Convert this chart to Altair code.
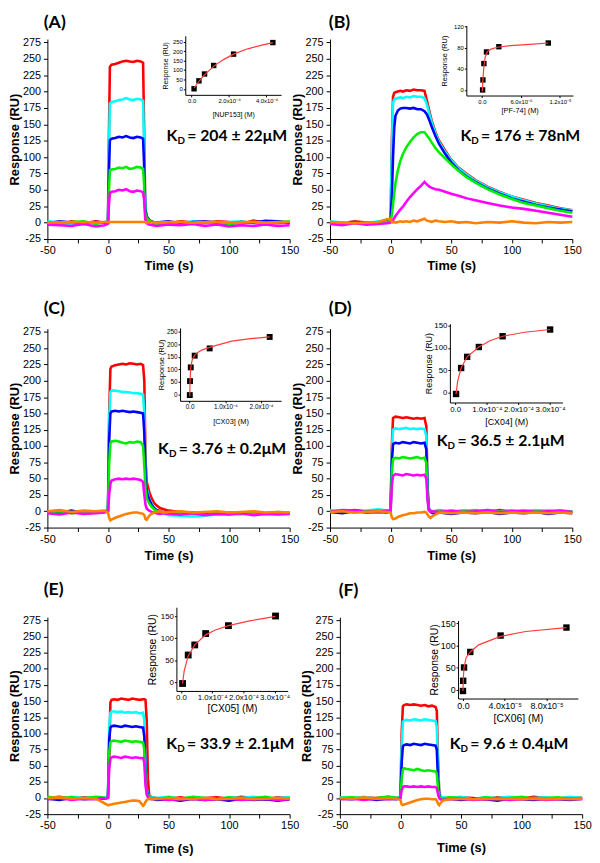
import altair as alt
import pandas as pd

# ---------------- sensorgram data (time in s, response in RU) ----------------
TRACES = ["red", "cyan", "blue", "green", "magenta", "orange"]
TRACE_COLORS = ["#FF0000", "#00FFFF", "#0000FF", "#00EE00", "#FF00FF", "#FF8000"]

A_t = [-50, -40, -30, -20, -10, -3, 0, 0.7, 1.6, 3, 6, 9, 12, 15, 18, 21, 24, 27, 29, 29.8, 30.8, 32, 34, 37, 40,
       50, 60, 70, 80, 90, 100, 110, 120, 130, 140, 150]
A_red = [1, -2, 2, -1, 2, 0, 0, 120, 238, 241, 242, 244, 246, 247, 246, 245, 247, 246, 244, 150, 20, 5, 2, 1, 0,
         -1, 2, 0, -1, 2, 1, -2, 3, 0, -1, 1]
A_cyan = [2, 0, -2, 1, -1, 1, 0, 100, 182, 184, 185, 187, 188, 190, 188, 187, 189, 188, 186, 120, 25, 8, 3, 1, -2,
          1, -1, 2, 0, -2, 1, 2, -1, 0, 2, -1]
A_blue = [-1, 2, 0, -2, 1, 0, 0, 70, 126, 128, 129, 131, 130, 132, 130, 129, 131, 130, 128, 90, 20, 10, 4, 1, 0,
          2, -1, 1, 2, 0, -2, 1, 0, 3, 2, 0]
A_green = [0, -3, 1, 2, -2, 1, 0, 45, 80, 81, 82, 84, 83, 85, 82, 83, 85, 84, 82, 60, 15, 8, 3, 0, -3,
           -2, 1, -1, 0, 1, -2, 0, 1, -1, 0, 2]
A_magenta = [-3, -4, -5, -2, -6, -4, -2, 25, 45, 47, 48, 50, 49, 51, 48, 47, 49, 48, 46, 35, 5, -1, -3, -4, -5,
             -3, -4, -2, -5, -3, -6, -4, -5, -3, -5, -4]
A_orange = [0, 1, 0, 1, 0, 1, 1, 1, 1, 1, 1, 1, 1, 1, 1, 1, 1, 1, 1, 1, 1, 0, 1, 1, 0,
            1, 1, 0, 1, 1, 0, 1, 1, 0, 1, 1]

B_t = [-50, -40, -30, -20, -10, -3, 0, 1, 2, 3, 4, 6, 8, 10, 13, 16, 19, 22, 25, 28, 30, 32, 34, 37, 40,
       45, 50, 56, 63, 70, 80, 90, 100, 110, 120, 130, 140, 150]
B_red = [1, -1, 2, 0, 1, 4, 5, 120, 192, 198, 199, 200, 201, 200, 202, 201, 203, 202, 202, 201, 186, 170, 155, 138, 125,
         110, 96, 84, 74, 65, 55, 47, 40, 35, 30, 26, 22, 19]
B_cyan = [2, 0, 1, -1, 2, 3, 4, 110, 183, 188, 189, 190, 191, 190, 192, 191, 193, 192, 192, 190, 180, 166, 152, 136, 123,
          108, 95, 83, 73, 64, 54, 46, 40, 34, 29, 25, 21, 19]
B_blue = [0, -2, 1, -1, 0, 2, 3, 40, 100, 145, 163, 171, 174, 175, 175, 174, 175, 173, 173, 170, 165, 156, 146, 132, 120,
          105, 92, 80, 70, 62, 52, 44, 37, 32, 27, 23, 20, 17]
B_green = [-1, -3, 0, -2, -1, 1, 3, 12, 28, 45, 60, 80, 94, 104, 115, 123, 130, 135, 138, 138, 133, 128, 122, 114, 107,
           98, 89, 79, 69, 61, 51, 43, 36, 30, 26, 22, 18, 15]
B_magenta = [-2, -4, -1, -3, -2, -1, 0, 2, 4, 7, 10, 15, 20, 24, 32, 39, 45, 51, 56, 62, 58, 55, 53, 51, 50,
             47, 44, 41, 37, 34, 30, 26, 23, 21, 18, 15, 12, 9]
B_orange = [1, 0, -1, 0, 1, 5, 6, 1, 0, 1, 0, 1, 2, 1, 2, 1, 3, 2, 4, 6, 3, 2, 1, 3, 2,
            1, 2, 0, 1, -1, 1, 0, 2, 0, -1, 1, 0, 1]

C_t = [-50, -40, -30, -20, -10, -3, 0, 1, 2, 3, 6, 9, 12, 15, 18, 21, 24, 27, 29, 30, 31, 32, 34, 36, 38, 40,
       43, 46, 50, 60, 70, 80, 90, 100, 110, 120, 130, 140, 150]
C_red = [-2, 1, -3, 0, -2, -1, 0, 150, 218, 222, 224, 225, 226, 225, 227, 226, 225, 226, 224, 200, 80, 45, 30, 20, 13, 9,
         5, 3, 1, -1, -3, -2, -4, -2, -3, -1, -3, -2, -3]
C_cyan = [-1, -3, 0, -2, -1, 0, 2, 140, 183, 185, 185, 184, 183, 183, 182, 181, 181, 180, 179, 150, 60, 35, 20, 12, 6, 2,
          -2, -4, -6, -7, -8, -7, -5, -4, -5, -3, -4, -2, -3]
C_blue = [0, -2, 1, -3, 0, -1, 1, 110, 150, 153, 154, 153, 154, 153, 152, 153, 152, 151, 150, 120, 55, 30, 18, 10, 5, 2,
          0, -2, -3, -4, -2, -5, -3, -4, -2, -4, -3, -4, -3]
C_green = [-2, 0, -3, -1, -2, 0, 1, 75, 104, 107, 108, 107, 105, 104, 106, 105, 107, 106, 100, 70, 35, 20, 12, 7, 3, 1,
           -1, -2, -3, -2, -4, -1, -3, -2, -4, -2, -3, -1, -2]
C_magenta = [-3, -5, -2, -4, -3, -2, 0, 25, 42, 47, 49, 50, 49, 50, 49, 50, 49, 48, 45, 25, 10, 4, 1, -1, -2, -3,
             -4, -3, -4, -5, -3, -6, -4, -5, -3, -6, -4, -5, -4]
C_orange = [0, 2, -1, 1, 0, 1, -2, -10, -14, -13, -10, -8, -6, -4, -3, -2, -2, -3, -4, -6, -12, -13, -7, -4, -2, -1,
            0, -2, -1, 0, -2, -1, 0, -2, -1, 0, -2, -1, -2]

D_t = [-50, -40, -30, -20, -10, -3, 0, 1, 2, 4, 7, 10, 13, 16, 19, 22, 25, 28, 29.5, 30.5, 31.5, 33, 35, 40,
       50, 60, 70, 80, 90, 100, 110, 120, 130, 140, 150]
D_red = [1, -1, 2, 0, 1, 0, 2, 100, 143, 145, 144, 143, 144, 143, 142, 143, 142, 143, 130, 40, 5, 1, -1, 0,
         -2, 1, -1, 0, 2, -1, 0, 1, -2, 0, -1]
D_cyan = [2, 0, -1, 1, 3, 1, 2, 90, 125, 127, 126, 127, 128, 126, 127, 126, 127, 126, 115, 35, 4, 1, 0, 2,
          0, 1, -1, 2, 0, 1, -1, 2, 0, 1, 0]
D_blue = [-1, -3, 0, -2, -1, -2, 0, 75, 103, 105, 104, 106, 105, 104, 106, 105, 104, 105, 95, 30, 3, -1, -3, -2,
          -4, -2, -3, -1, -4, -2, -3, -1, -4, -2, -3]
D_green = [0, 1, -2, 0, 1, -1, 1, 58, 80, 82, 81, 83, 82, 81, 82, 83, 81, 82, 74, 24, 2, 0, -1, 1,
           -1, 0, 2, -1, 0, 1, -1, 0, 1, -1, 0]
D_magenta = [-1, 2, 1, -1, 0, 1, 0, 40, 54, 57, 56, 55, 57, 56, 55, 56, 55, 56, 50, 17, 2, -1, 0, -1,
             1, -1, 0, 2, -1, 0, 1, -1, 0, 1, -1]
D_orange = [-1, 0, -2, -1, 0, -1, -2, -9, -12, -11, -8, -6, -5, -3, -3, -2, -2, -1, -2, -5, -8, -10, -7, -2,
            -3, -2, -3, -2, -3, -2, -3, -2, -3, -2, -3]

E_t = [-50, -40, -30, -20, -10, -5, -2, 0, 1, 2, 3, 5, 8, 11, 14, 17, 20, 23, 26, 29, 30, 31, 32, 33, 34, 36, 40,
       50, 60, 70, 80, 90, 100, 110, 120, 130, 140, 150]
E_red = [0, 2, -1, 1, 0, -1, 0, 1, 60, 148, 152, 153, 152, 154, 153, 152, 154, 153, 152, 153, 153, 152, 120, 30, 5, 1, 0,
         -1, 1, -2, 0, 1, -1, 2, 0, -2, 1, 0]
E_cyan = [1, -1, 2, 0, 1, 0, 1, 2, 110, 132, 134, 134, 133, 134, 132, 133, 132, 133, 131, 132, 120, 50, 15, 6, 3, 1, 0,
          2, -1, 1, 0, -2, 1, 0, 2, -1, 0, 1]
E_blue = [-1, -3, 0, -2, -1, 0, -1, 1, 90, 109, 111, 112, 111, 110, 112, 111, 110, 111, 110, 109, 95, 40, 12, 4, 1, -1, -3,
          -2, -4, -1, -3, -2, -4, -1, -3, -2, -4, -2]
E_green = [2, 0, 1, -1, 2, 1, 0, 1, 70, 86, 88, 89, 88, 87, 89, 88, 87, 88, 87, 86, 75, 30, 8, 3, 1, 0, -2,
           1, -1, 2, 0, -2, 1, -1, 0, 2, -1, 0]
E_magenta = [-2, 0, -3, -1, -2, 0, -1, 0, 45, 61, 63, 64, 63, 62, 64, 63, 62, 63, 62, 62, 55, 20, 5, 1, -1, -2, -1,
             -3, -2, -1, -3, -2, -1, -3, -2, -1, -3, -2]
E_orange = [0, 1, -1, 0, -1, -6, -9, -11, -11, -10, -10, -9, -8, -7, -6, -5, -4, -4, -5, -12, -10, -6, -3, -2, -1, -2, -1,
            0, -2, -1, 0, -2, -1, 0, -2, -1, 0, -1]

F_t = [-50, -40, -30, -20, -10, -3, 0, 1, 2, 3, 5, 8, 11, 14, 17, 20, 23, 26, 29, 30, 31, 32, 33, 35, 40,
       50, 60, 70, 80, 90, 100, 110, 120, 130, 140, 150]
F_red = [0, -1, 1, 0, 2, 0, 1, 100, 142, 144, 145, 144, 145, 144, 143, 144, 142, 143, 141, 135, 60, 10, 2, 0, -1,
         1, 0, -2, 1, 0, -1, 2, 0, -1, 1, 0]
F_cyan = [1, 0, 2, -1, 1, 0, 2, 80, 118, 120, 121, 120, 122, 121, 120, 122, 121, 120, 119, 110, 45, 8, 2, 1, 0,
          2, -1, 1, 0, 2, -1, 0, 1, -1, 2, 0]
F_blue = [-1, -2, 0, -3, -1, -2, 0, 55, 80, 82, 83, 82, 84, 83, 82, 84, 83, 82, 81, 75, 30, 5, -1, -2, -1,
          -3, -1, -2, -4, -1, -2, -3, -1, -2, -3, -1]
F_green = [0, 1, -1, 0, 2, 0, 1, 30, 44, 46, 45, 44, 43, 45, 43, 42, 43, 42, 41, 38, 15, 3, 0, -1, 1,
           0, -2, 1, -1, 0, 2, -1, 0, 1, -1, 0]
F_magenta = [-2, -1, -3, -1, -2, -1, 0, 12, 17, 18, 18, 17, 18, 17, 18, 17, 18, 17, 17, 15, 6, 0, -2, -3, -2,
             -1, -3, -2, -1, -3, -2, -1, -3, -2, -1, -2]
F_orange = [0, -1, 1, -1, 0, -1, -3, -10, -11, -10, -9, -7, -5, -3, -2, -1, -1, -2, -2, -4, -9, -11, -8, -4, -2,
            -1, -2, -1, -2, -1, -2, -1, -2, -1, -2, -1]

# ---------------- inset (steady-state) data: concentration (M), response (RU) ----------------
A_conc = [1.3e-5, 3.9e-5, 6.9e-5, 1.18e-4, 2.24e-4, 4.34e-4]
A_resp = [1, 43, 79, 124, 184, 245]
A_fit_conc = [1.3e-5, 4e-5, 7e-5, 1.2e-4, 1.7e-4, 2.24e-4, 3e-4, 3.7e-4, 4.34e-4]
A_fit_resp = [5, 42, 76, 122, 155, 184, 212, 230, 245]

B_conc = [0.1e-6, 0.15e-6, 0.3e-6, 0.7e-6, 2.6e-6, 10.2e-6]
B_resp = [0, 19, 50, 72, 82, 89]
B_fit_conc = [0.05e-6, 0.15e-6, 0.3e-6, 0.5e-6, 0.85e-6, 1.5e-6, 2.4e-6, 4.4e-6, 7.9e-6, 10.2e-6]
B_fit_resp = [-3, 20, 45, 62, 73, 78, 81, 84, 87, 89]

C_conc = [0.3e-6, 1.0e-6, 3e-6, 14e-6, 56e-6, 224e-6]
C_resp = [-3, 53, 108, 155, 184, 230]
C_fit_conc = [0.3e-6, 1e-6, 3e-6, 7e-6, 14e-6, 25e-6, 35e-6, 56e-6, 72e-6, 118e-6, 170e-6, 224e-6]
C_fit_resp = [-8, 53, 108, 138, 157, 170, 178, 188, 195, 213, 223, 230]

D_conc = [3e-6, 1.9e-5, 3.8e-5, 7.5e-5, 1.5e-4, 3e-4]
D_resp = [-3, 55, 80, 102, 126, 141]
D_fit_conc = [3e-6, 8e-6, 1.9e-5, 3.8e-5, 7.5e-5, 1.1e-4, 1.5e-4, 2.2e-4, 3e-4]
D_fit_resp = [-3, 25, 55, 80, 102, 116, 126, 135, 141]

E_conc = [5e-6, 2.3e-5, 4.4e-5, 7.9e-5, 1.52e-4, 3.03e-4]
E_resp = [-3, 62, 85, 111, 129, 151]
E_fit_conc = [5e-6, 1e-5, 2.3e-5, 4.4e-5, 7.9e-5, 1.1e-4, 1.52e-4, 2.2e-4, 3.03e-4]
E_fit_resp = [-3, 25, 60, 85, 108, 119, 129, 140, 150]

F_conc = [0.0, 0.2e-6, 1.0e-6, 7.0e-6, 3.6e-5, 9.9e-5]
F_resp = [-3, 20, 50, 85, 122, 140]
F_fit_conc = [0.0, 0.3e-6, 1e-6, 3e-6, 7e-6, 1.5e-5, 3.6e-5, 6e-5, 9.9e-5]
F_fit_resp = [-3, 25, 50, 72, 85, 101, 120, 131, 140]

# ---------------- texts ----------------
PANEL_LABELS = ["(A)", "(B)", "(C)", "(D)", "(E)", "(F)"]
KD_TEXTS = ["= 204 ± 22μM", "= 176 ± 78nM", "= 3.76 ± 0.2μM", "= 36.5 ± 2.1μM", "= 33.9 ± 2.1μM", "= 9.6 ± 0.4μM"]
INSET_X_TITLES = ["[NUP153] (M)", "[PF-74] (M)", "[CX03] (M)", "[CX04] (M)", "[CX05] (M)", "[CX06] (M)"]

# ---------------- layout / style ----------------
MAIN_W = 246
ROW_H = [203, 202, 200]
SANS = "Liberation Sans"
BOLD_FONT = "Lato"


def sci(exp_sup, mult):
    return ("datum.value == 0 ? '0.0' : format(datum.value * %s, '.1f') + 'x10%s'" % (mult, exp_sup))


B_LABEL_EXPR = ("datum.value == 0 ? '0.0' : (datum.value < 1e-5 ? format(datum.value * 1e6, '.1f') + 'x10⁻⁶'"
                " : format(datum.value * 1e5, '.1f') + 'x10⁻⁵')")

PANELS = [
    dict(t=A_t, red=A_red, cyan=A_cyan, blue=A_blue, green=A_green, magenta=A_magenta, orange=A_orange,
         conc=A_conc, resp=A_resp, fc=A_fit_conc, fr=A_fit_resp, h=ROW_H[0], shift=0, ttp=4,
         kd_pos=(48.4, 132), lab_pos=(-53, 304),
         ix_dom=[-0.34e-4, 4.78e-4], ix_rng=[140, 237.3], iy_dom=[-31, 281], iy_rng=[56.6, -3.4],
         ix_vals=[0, 2e-4, 4e-4], iy_vals=[0, 50, 100, 150, 200, 250], ix_expr=sci("⁻⁴", "1e4"),
         lfs=6, tfs=7, xtp=7, ytp=4, msize=30),
    dict(t=B_t, red=B_red, cyan=B_cyan, blue=B_blue, green=B_green, magenta=B_magenta, orange=B_orange,
         conc=B_conc, resp=B_resp, fc=B_fit_conc, fr=B_fit_resp, h=ROW_H[0], shift=0, ttp=4,
         kd_pos=(57.6, 132), lab_pos=(-51, 304),
         ix_dom=[-2.4e-6, 1.4e-5], ix_rng=[138.4, 246.7], iy_dom=[-10.6, 122], iy_rng=[57.3, -13.7],
         ix_vals=[0, 6e-6, 1.2e-5], iy_vals=[0, 40, 80, 120], ix_expr=B_LABEL_EXPR,
         lfs=6, tfs=7.5, xtp=2.5, ytp=5, msize=30),
    dict(t=C_t, red=C_red, cyan=C_cyan, blue=C_blue, green=C_green, magenta=C_magenta, orange=C_orange,
         conc=C_conc, resp=C_resp, fc=C_fit_conc, fr=C_fit_resp, h=ROW_H[1], shift=0, ttp=5,
         kd_pos=(41.4, 96), lab_pos=(-53, 310),
         ix_dom=[-0.27e-4, 2.56e-4], ix_rng=[134.7, 237.3], iy_dom=[-26, 266], iy_rng=[73.3, -0.7],
         ix_vals=[0, 1e-4, 2e-4], iy_vals=[0, 50, 100, 150, 200, 250], ix_expr=sci("⁻⁴", "1e4"),
         lfs=6.5, tfs=7.5, xtp=8, ytp=0.5, msize=36),
    dict(t=D_t, red=D_red, cyan=D_cyan, blue=D_blue, green=D_green, magenta=D_magenta, orange=D_orange,
         conc=D_conc, resp=D_resp, fc=D_fit_conc, fr=D_fit_resp, h=ROW_H[1], shift=0, ttp=5,
         kd_pos=(38.1, 107), lab_pos=(-51, 310),
         ix_dom=[-0.165e-4, 3.39e-4], ix_rng=[121.7, 236], iy_dom=[-22, 154], iy_rng=[75, -5],
         ix_vals=[0, 1e-4, 2e-4, 3e-4], iy_vals=[0, 50, 100, 150], ix_expr=sci("⁻⁴", "1e4"),
         lfs=8, tfs=9, xtp=4.5, ytp=0.5, msize=42),
    dict(t=E_t, red=E_red, cyan=E_cyan, blue=E_blue, green=E_green, magenta=E_magenta, orange=E_orange,
         conc=E_conc, resp=E_resp, fc=E_fit_conc, fr=E_fit_resp, h=ROW_H[2], shift=0, ttp=12,
         kd_pos=(48.2, 83), lab_pos=(-53, 322),
         ix_dom=[-0.148e-4, 3.42e-4], ix_rng=[131, 244], iy_dom=[-20, 171], iy_rng=[74.9, -10.1],
         ix_vals=[0, 1e-4, 2e-4, 3e-4], iy_vals=[0, 50, 100, 150], ix_expr=sci("⁻⁴", "1e4"),
         lfs=8, tfs=10.5, xtp=1.5, ytp=3, msize=48),
    dict(t=F_t, red=F_red, cyan=F_cyan, blue=F_blue, green=F_green, magenta=F_magenta, orange=F_orange,
         conc=F_conc, resp=F_resp, fc=F_fit_conc, fr=F_fit_resp, h=ROW_H[2], shift=10, ttp=11,
         kd_pos=(40.6, 84), lab_pos=(-51, 321),
         ix_dom=[-0.47e-5, 11.0e-5], ix_rng=[120, 241.7], iy_dom=[-20, 156], iy_rng=[82.6, 3.3],
         ix_vals=[0, 4e-5, 8e-5], iy_vals=[0, 50, 100, 150], ix_expr=sci("⁻⁵", "1e5"),
         lfs=9, tfs=10.5, xtp=3.5, ytp=0.5, msize=42),
]

HYPHEN_LABEL = "replace(datum.label, '\u2212', '-')"


def main_enc(shift, ttp):
    x = alt.X("t:Q", scale=alt.Scale(domain=[-50, 150], range=[shift, shift + MAIN_W], nice=False, zero=False),
              axis=alt.Axis(values=list(range(-50, 151, 25)),
                            labelExpr="datum.value % 50 == 0 ? " + HYPHEN_LABEL + " : ''",
                            title="Time (s)", titleFont=SANS, titleFontSize=13, titleFontWeight="bold",
                            labelFont=SANS, labelFontSize=11, tickSize=4, labelPadding=2, titlePadding=ttp,
                            labelFlush=False, labelOverlap=False, grid=False))
    y = alt.Y("R:Q", scale=alt.Scale(domain=[-25, 280], nice=False, zero=False),
              axis=alt.Axis(values=list(range(-25, 276, 25)), title="Response (RU)", titleFont=SANS,
                            labelExpr=HYPHEN_LABEL,
                            titleFontSize=13, titleFontWeight="bold", labelFont=SANS, labelFontSize=11,
                            tickSize=4, labelPadding=3, titlePadding=1, labelFlush=False,
                            labelOverlap=False, grid=False, offset=-shift))
    return x, y


def check(p, idx):
    for name in TRACES:
        if len(p[name]) != len(p["t"]):
            raise ValueError("panel %d trace %s length %d != %d" % (idx, name, len(p[name]), len(p["t"])))


def make_panel(idx, p):
    check(p, idx)
    s = p["shift"]
    x, y = main_enc(s, p["ttp"])
    layers = []
    for name, color in zip(TRACES, TRACE_COLORS):
        df = pd.DataFrame({"t": p["t"], "R": p[name]})
        layers.append(alt.Chart(df).mark_line(color=color, strokeWidth=2.6).encode(x=x, y=y))

    kd = pd.DataFrame({"t": [p["kd_pos"][0]], "R": [p["kd_pos"][1]]})
    layers.append(alt.Chart(kd).mark_text(text="K", align="left", baseline="middle", font=BOLD_FONT,
                                          fontWeight="bold", fontSize=16, color="black").encode(x=x, y=y))
    layers.append(alt.Chart(kd).mark_text(text="D", align="left", baseline="middle", font=BOLD_FONT,
                                          fontWeight="bold", fontSize=10, dx=11, dy=5,
                                          color="black").encode(x=x, y=y))
    layers.append(alt.Chart(kd).mark_text(text=KD_TEXTS[idx], align="left", baseline="middle", font=BOLD_FONT,
                                          fontWeight="bold", fontSize=16, dx=21,
                                          color="black").encode(x=x, y=y))
    lab = pd.DataFrame({"t": [p["lab_pos"][0]], "R": [p["lab_pos"][1]]})
    layers.append(alt.Chart(lab).mark_text(text=PANEL_LABELS[idx], align="left", baseline="middle",
                                           font=BOLD_FONT, fontWeight="bold", fontSize=18,
                                           color="black").encode(x=x, y=y))
    main = alt.layer(*layers)

    h = p["h"]
    ix = alt.X("c:Q", scale=alt.Scale(domain=p["ix_dom"], range=[p["ix_rng"][0] + s, p["ix_rng"][1] + s],
                                      nice=False, zero=False),
               axis=alt.Axis(orient="bottom", offset=p["iy_rng"][0] - h, values=p["ix_vals"],
                             labelExpr=p["ix_expr"], title=INSET_X_TITLES[idx], titleFont=SANS,
                             titleFontSize=p["tfs"], titleFontWeight="normal", labelFont=SANS,
                             labelFontSize=p["lfs"], tickSize=2, labelPadding=1, titlePadding=p["xtp"],
                             labelFlush=False, labelOverlap=False, grid=False))
    iy = alt.Y("r:Q", scale=alt.Scale(domain=p["iy_dom"], range=p["iy_rng"], nice=False, zero=False),
               axis=alt.Axis(orient="left", offset=-(p["ix_rng"][0] + s), values=p["iy_vals"],
                             title="Response (RU)", titleFont=SANS, titleFontSize=p["tfs"],
                             titleFontWeight="normal", labelFont=SANS, labelFontSize=p["lfs"], tickSize=2,
                             labelPadding=1, titlePadding=p["ytp"], labelFlush=False, labelOverlap=False,
                             grid=False))
    pts = alt.Chart(pd.DataFrame({"c": p["conc"], "r": p["resp"]})).mark_square(
        size=p["msize"], color="black", opacity=1).encode(x=ix, y=iy)
    fit = alt.Chart(pd.DataFrame({"c": p["fc"], "r": p["fr"]})).mark_line(
        color="#FF3B3B", strokeWidth=1.2).encode(x=ix, y=iy)
    inset = alt.layer(pts, fit)

    return alt.layer(main, inset).resolve_scale(x="independent", y="independent").properties(
        width=MAIN_W + s, height=h)


panels = [make_panel(i, p) for i, p in enumerate(PANELS)]

chart = alt.concat(*panels, columns=2, spacing={"row": 91, "column": 41}, bounds="flush").properties(
    padding={"left": 0, "top": 0, "right": 0, "bottom": 0}
).configure_view(stroke=None).configure_axis(
    domainColor="black", tickColor="black", labelColor="black", titleColor="black", domainWidth=1
)

chart.save("out.html", embed_options={"renderer": "svg", "actions": False})
